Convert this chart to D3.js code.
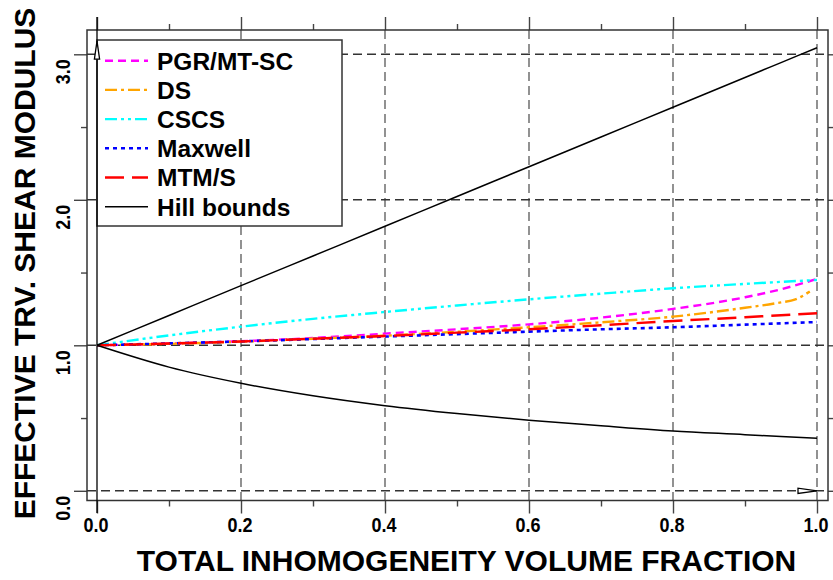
<!DOCTYPE html>
<html>
<head>
<meta charset="utf-8">
<script src="https://cdn.jsdelivr.net/npm/d3@7.9.0/dist/d3.min.js"></script>
<style>
  body { margin: 0; background: #fff; }
  svg { display: block; font-family: "Liberation Sans", Arial, sans-serif; font-weight: bold; }
</style>
</head>
<body>
<svg id="chart" width="833" height="580"></svg>
<script>
// volume fractions
const fractions = [0, 0.1, 0.2, 0.3, 0.4, 0.5, 0.6, 0.7, 0.8, 0.9, 0.95, 1.0];
const dsFractions = [0, 0.1, 0.2, 0.3, 0.4, 0.5, 0.6, 0.7, 0.8, 0.9, 0.95, 0.97, 0.99];

const pgrValues = [1.0, 1.012, 1.028, 1.05, 1.08, 1.11, 1.144, 1.19, 1.25, 1.33, 1.385, 1.456];
const dsValues = [1.0, 1.01, 1.025, 1.045, 1.066, 1.093, 1.124, 1.158, 1.197, 1.258, 1.295, 1.315, 1.37];
const cscsValues = [1.0, 1.068, 1.128, 1.182, 1.229, 1.274, 1.316, 1.355, 1.392, 1.422, 1.436, 1.449];
const maxwellValues = [1.0, 1.013, 1.027, 1.043, 1.06, 1.077, 1.094, 1.11, 1.124, 1.142, 1.151, 1.16];
const mtmValues = [1.0, 1.012, 1.026, 1.045, 1.064, 1.087, 1.11, 1.138, 1.167, 1.193, 1.207, 1.22];
const hillUpper = [1.0, 1.205, 1.41, 1.614, 1.818, 2.023, 2.227, 2.432, 2.636, 2.841, 2.943, 3.045];
const hillLower = [1.0, 0.85, 0.739, 0.653, 0.585, 0.531, 0.485, 0.447, 0.411, 0.386, 0.373, 0.361];

const legendLabels = ['PGR/MT-SC', 'DS', 'CSCS', 'Maxwell', 'MTM/S', 'Hill bounds'];

const xMajor = [0, 0.2, 0.4, 0.6, 0.8, 1.0];
const xMinor = [0.1, 0.3, 0.5, 0.7, 0.9];
const yMajor = [0, 1, 2, 3];
const yMinor = [0.5, 1.5, 2.5];

const xTitle = 'TOTAL INHOMOGENEITY VOLUME FRACTION';
const yTitle = 'EFFECTIVE TRV. SHEAR MODULUS';

// styles
const styles = {
  'PGR/MT-SC': { color: '#ff00ff', dash: '8,5', width: 2.4 },
  'DS': { color: '#ffa500', dash: '12,4,3,4', width: 2.4 },
  'CSCS': { color: '#00ffff', dash: '12,4,3,4,3,4', width: 2.4 },
  'Maxwell': { color: '#0000ff', dash: '4,4', width: 2.6 },
  'MTM/S': { color: '#ff0000', dash: '19,8', width: 2.4 },
  'Hill bounds': { color: '#000', dash: null, width: 1.5 }
};

const series = [
  { name: 'PGR/MT-SC', xs: fractions, ys: pgrValues },
  { name: 'DS', xs: dsFractions, ys: dsValues },
  { name: 'CSCS', xs: fractions, ys: cscsValues },
  { name: 'Maxwell', xs: fractions, ys: maxwellValues },
  { name: 'MTM/S', xs: fractions, ys: mtmValues },
  { name: 'Hill bounds', xs: fractions, ys: hillUpper },
  { name: 'Hill bounds', xs: fractions, ys: hillLower }
];

const svg = d3.select('#chart');
const x = d3.scaleLinear().domain([0, 1]).range([97, 817]);
const y = d3.scaleLinear().domain([0, 3]).range([490.8, 54.3]);
const frame = { left: 87, right: 828, top: 30, bottom: 500.5 };

// dashed grid inside the frame
svg.append('g').selectAll('line')
  .data(xMajor.filter(d => d > 0))
  .join('line')
  .attr('x1', d => x(d)).attr('x2', d => x(d))
  .attr('y1', frame.top).attr('y2', frame.bottom)
  .attr('stroke', '#777').attr('stroke-width', 1.6)
  .attr('stroke-dasharray', '9,5');

svg.append('g').selectAll('line')
  .data(yMajor)
  .join('line')
  .attr('x1', frame.left).attr('x2', frame.right)
  .attr('y1', d => y(d)).attr('y2', d => y(d))
  .attr('stroke', '#333').attr('stroke-width', 1.4)
  .attr('stroke-dasharray', '9,5');

// axes: ticks outside the frame
function styleAxis(g) {
  g.select('.domain').remove();
  g.selectAll('.tick line').attr('stroke', '#444').attr('stroke-width', 1.4);
}

const bottom = svg.append('g')
  .attr('transform', `translate(0,${frame.bottom})`)
  .call(d3.axisBottom(x).tickValues(xMajor).tickSize(13).tickPadding(4).tickFormat(d3.format('.1f')));
styleAxis(bottom);
bottom.selectAll('text')
  .attr('font-size', 21).attr('font-family', null).attr('fill', '#000')
  .attr('textLength', 25).attr('lengthAdjust', 'spacingAndGlyphs')
  .attr('x', -1.5);

svg.append('g').attr('transform', `translate(0,${frame.bottom})`)
  .call(d3.axisBottom(x).tickValues(xMinor).tickSize(6).tickFormat(''))
  .call(styleAxis);
svg.append('g').attr('transform', `translate(0,${frame.top})`)
  .call(d3.axisTop(x).tickValues(xMajor).tickSize(13).tickFormat(''))
  .call(styleAxis);
svg.append('g').attr('transform', `translate(0,${frame.top})`)
  .call(d3.axisTop(x).tickValues(xMinor).tickSize(6).tickFormat(''))
  .call(styleAxis);

const left = svg.append('g')
  .attr('transform', `translate(${frame.left},0)`)
  .call(d3.axisLeft(y).tickValues(yMajor).tickSize(13).tickFormat(d3.format('.1f')));
styleAxis(left);
left.selectAll('text')
  .attr('font-size', 21).attr('font-family', null).attr('fill', '#000')
  .attr('textLength', 25).attr('lengthAdjust', 'spacingAndGlyphs')
  .attr('text-anchor', 'middle').attr('dy', null).attr('x', null)
  .attr('transform', 'translate(-17,17) rotate(-90)');

svg.append('g').attr('transform', `translate(${frame.left},0)`)
  .call(d3.axisLeft(y).tickValues(yMinor).tickSize(6).tickFormat(''))
  .call(styleAxis);
svg.append('g').attr('transform', `translate(${frame.right},0)`)
  .call(d3.axisRight(y).tickValues(yMajor).tickSize(13).tickFormat(''))
  .call(styleAxis);
svg.append('g').attr('transform', `translate(${frame.right},0)`)
  .call(d3.axisRight(y).tickValues(yMinor).tickSize(6).tickFormat(''))
  .call(styleAxis);

// frame
svg.append('rect')
  .attr('x', frame.left).attr('y', frame.top)
  .attr('width', frame.right - frame.left).attr('height', frame.bottom - frame.top)
  .attr('fill', 'none').attr('stroke', '#333').attr('stroke-width', 1.5);

// curves
const line = d3.line()
  .x(d => x(d[0]))
  .y(d => y(d[1]))
  .curve(d3.curveMonotoneX);

svg.append('g').selectAll('path')
  .data(series)
  .join('path')
  .attr('d', s => line(s.xs.map((f, i) => [f, s.ys[i]])))
  .attr('fill', 'none')
  .attr('stroke', s => styles[s.name].color)
  .attr('stroke-width', s => styles[s.name].width)
  .attr('stroke-dasharray', s => styles[s.name].dash);

// legend
const legend = svg.append('g');
legend.append('rect')
  .attr('x', 97).attr('y', 40).attr('width', 245).attr('height', 186)
  .attr('fill', '#fff').attr('stroke', '#333').attr('stroke-width', 1.5);

const rows = legend.selectAll('g.row')
  .data(legendLabels)
  .join('g')
  .attr('class', 'row')
  .attr('transform', (d, i) => `translate(0,${60.7 + i * 29.2})`);

rows.append('line')
  .attr('x1', 105).attr('x2', 148)
  .attr('stroke', d => styles[d].color)
  .attr('stroke-width', d => styles[d].width)
  .attr('stroke-dasharray', d => styles[d].dash);

rows.append('text')
  .attr('x', 157).attr('y', 8.8)
  .attr('font-size', 24.5)
  .text(d => d);

// axis arrows
svg.append('line')
  .attr('x1', x(0)).attr('x2', x(0))
  .attr('y1', 17).attr('y2', 513)
  .attr('stroke', '#000').attr('stroke-width', 1.3);

const tipY = y(3.09);
svg.append('path')
  .attr('d', `M${x(0)},${tipY}L${x(0) - 2.6},${tipY + 18}L${x(0) + 2.6},${tipY + 18}Z`)
  .attr('fill', '#fff').attr('stroke', '#000').attr('stroke-width', 1.3);

const tipX = x(1);
svg.append('path')
  .attr('d', `M${tipX},${y(0)}L${tipX - 19},${y(0) - 2.6}L${tipX - 19},${y(0) + 2.6}Z`)
  .attr('fill', '#fff').attr('stroke', '#000').attr('stroke-width', 1.3);

// titles
svg.append('text')
  .attr('x', 466.5).attr('y', 571)
  .attr('text-anchor', 'middle')
  .attr('font-size', 30)
  .text(xTitle);

svg.append('text')
  .attr('transform', 'translate(35,263.5) rotate(-90)')
  .attr('text-anchor', 'middle')
  .attr('font-size', 30)
  .text(yTitle);
</script>
</body>
</html>
